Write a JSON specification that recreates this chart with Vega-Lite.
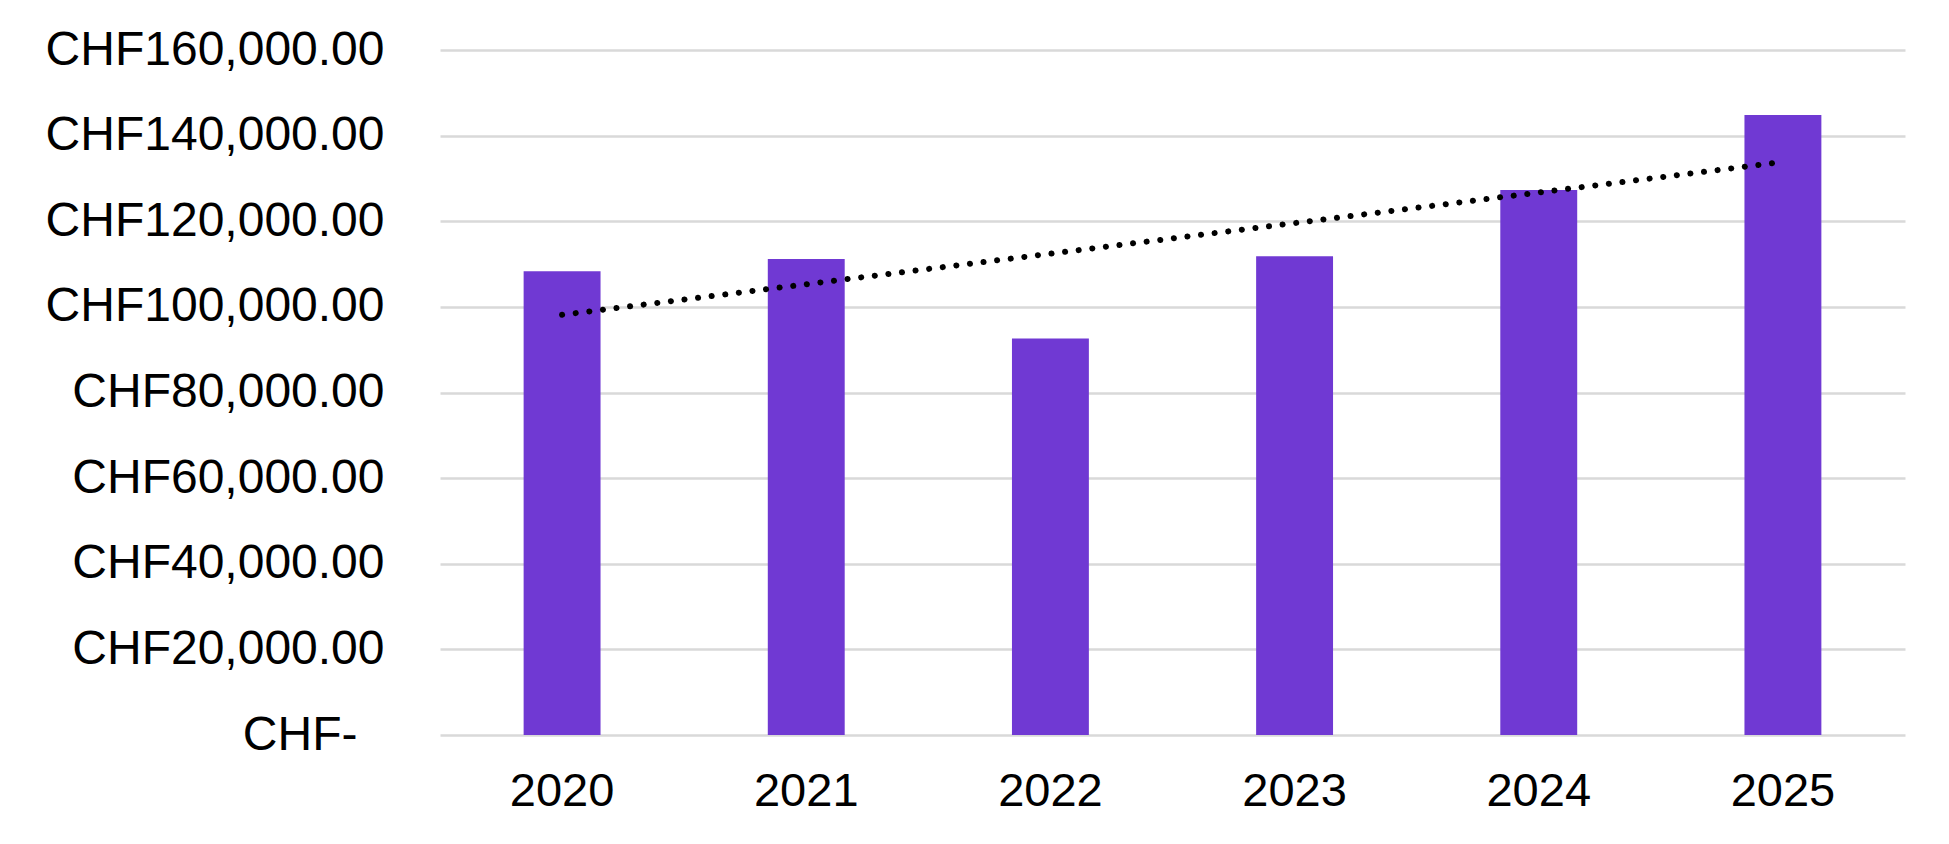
{
  "$schema": "https://vega.github.io/schema/vega-lite/v6.json",
  "width": 1465,
  "height": 685,
  "autosize": {"type": "none"},
  "padding": {"left": 440, "top": 50, "right": 44, "bottom": 109},
  "background": "white",
  "config": {
    "view": {"stroke": null},
    "font": "Liberation Sans"
  },
  "data": {
    "values": [
      {"year": 2020, "value": 108300},
      {"year": 2021, "value": 111200},
      {"year": 2022, "value": 92600},
      {"year": 2023, "value": 111800},
      {"year": 2024, "value": 127300},
      {"year": 2025, "value": 144800}
    ]
  },
  "encoding": {
    "x": {
      "field": "year",
      "type": "ordinal",
      "title": null,
      "scale": {"paddingInner": 0.685, "paddingOuter": 0.3425},
      "axis": {
        "domain": false,
        "ticks": false,
        "labelAngle": 0,
        "labelFontSize": 47,
        "labelColor": "#000000",
        "labelPadding": 33
      }
    },
    "y": {
      "field": "value",
      "type": "quantitative",
      "title": null,
      "scale": {"domain": [0, 160000], "nice": false},
      "axis": {
        "values": [0, 20000, 40000, 60000, 80000, 100000, 120000, 140000, 160000],
        "domain": false,
        "ticks": false,
        "grid": true,
        "gridColor": "#d9d9d9",
        "gridWidth": 2.5,
        "labelFontSize": 48,
        "labelColor": "#000000",
        "labelPadding": {"condition": {"test": "datum.value == 0", "value": 83}, "value": 56},
        "labelLimit": 0,
        "labelExpr": "datum.value == 0 ? 'CHF-' : 'CHF' + format(datum.value, ',.2f')"
      }
    }
  },
  "layer": [
    {
      "mark": {"type": "bar", "color": "#7039d3"}
    },
    {
      "transform": [{"regression": "value", "on": "year"}],
      "mark": {
        "type": "line",
        "color": "#000000",
        "strokeWidth": 6,
        "strokeCap": "round",
        "strokeDash": [0.1, 13.6]
      }
    }
  ]
}
